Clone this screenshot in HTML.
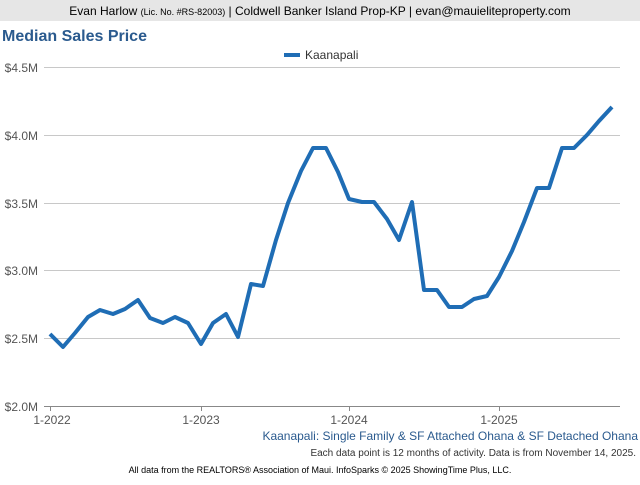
<!DOCTYPE html>
<html><head><meta charset="utf-8"><style>
body{margin:0;width:640px;height:480px;background:#fff;overflow:hidden;font-family:"Liberation Sans",Arial,sans-serif}
</style></head><body>
<svg width="640" height="480" xmlns="http://www.w3.org/2000/svg" font-family="Liberation Sans, Arial, sans-serif">
<rect x="0" y="0" width="640" height="21" fill="#e6e6e6"/>
<text x="320" y="15" text-anchor="middle" font-size="12" fill="#000">Evan Harlow <tspan font-size="9">(Lic. No. #RS-82003)</tspan> | Coldwell Banker Island Prop-KP | evan@mauielitepropert​y.com</text>
<text x="2" y="41" font-size="16" font-weight="bold" fill="#2a5a8e">Median Sales Price</text>
<line x1="284" y1="55" x2="300" y2="55" stroke="#1f6db5" stroke-width="4"/>
<text x="305" y="59" font-size="12" fill="#333">Kaanapali</text>
<g stroke="#c8c8c8" stroke-width="1">
<line x1="44" y1="67.5" x2="620" y2="67.5"/>
<line x1="44" y1="135.5" x2="620" y2="135.5"/>
<line x1="44" y1="203.5" x2="620" y2="203.5"/>
<line x1="44" y1="270.5" x2="620" y2="270.5"/>
<line x1="44" y1="338.5" x2="620" y2="338.5"/>
</g>
<line x1="44" y1="406.5" x2="620" y2="406.5" stroke="#888"/>
<g stroke="#888"><line x1="50.5" y1="406" x2="50.5" y2="411"/><line x1="201.5" y1="406" x2="201.5" y2="411"/><line x1="349.5" y1="406" x2="349.5" y2="411"/><line x1="499.5" y1="406" x2="499.5" y2="411"/></g>
<g font-size="12" fill="#555" text-anchor="end">
<text x="38" y="72">$4.5M</text><text x="38" y="140">$4.0M</text><text x="38" y="208">$3.5M</text><text x="38" y="275">$3.0M</text><text x="38" y="343">$2.5M</text><text x="38" y="411">$2.0M</text>
</g>
<g font-size="12" fill="#555" text-anchor="middle">
<text x="52" y="424">1-2022</text><text x="201" y="424">1-2023</text><text x="349" y="424">1-2024</text><text x="499" y="424">1-2025</text>
</g>
<polyline fill="none" stroke="#1f6db5" stroke-width="4" stroke-linejoin="round" points="50,334 63,347 75,333 88,317 100,310 113,314 125,309 138,300 150,318 163,323 175,317 188,323 201,344 213,323 226,314 238,337 251,284 263,286 276,240 288,203 301,171 313,148 326,148 338,172 349,199 362,202 374,202 387,219 399,240 412,202 424,290 437,290 449,307 462,307 474,299 487,296 499,277 512,251 524,222 537,188 549,188 562,148 574,148 587,135 599,121 612,107"/>
<text x="638" y="440" text-anchor="end" font-size="12" fill="#2a5a8e">Kaanapali: Single Family &amp; SF Attached Ohana &amp; SF Detached Ohana</text>
<text x="636" y="456" text-anchor="end" font-size="10" fill="#333">Each data point is 12 months of activity. Data is from November 14, 2025.</text>
<text x="320" y="473" text-anchor="middle" font-size="9" fill="#000">All data from the REALTORS® Association of Maui. InfoSparks © 2025 ShowingTime Plus, LLC.</text>
</svg>
</body></html>
